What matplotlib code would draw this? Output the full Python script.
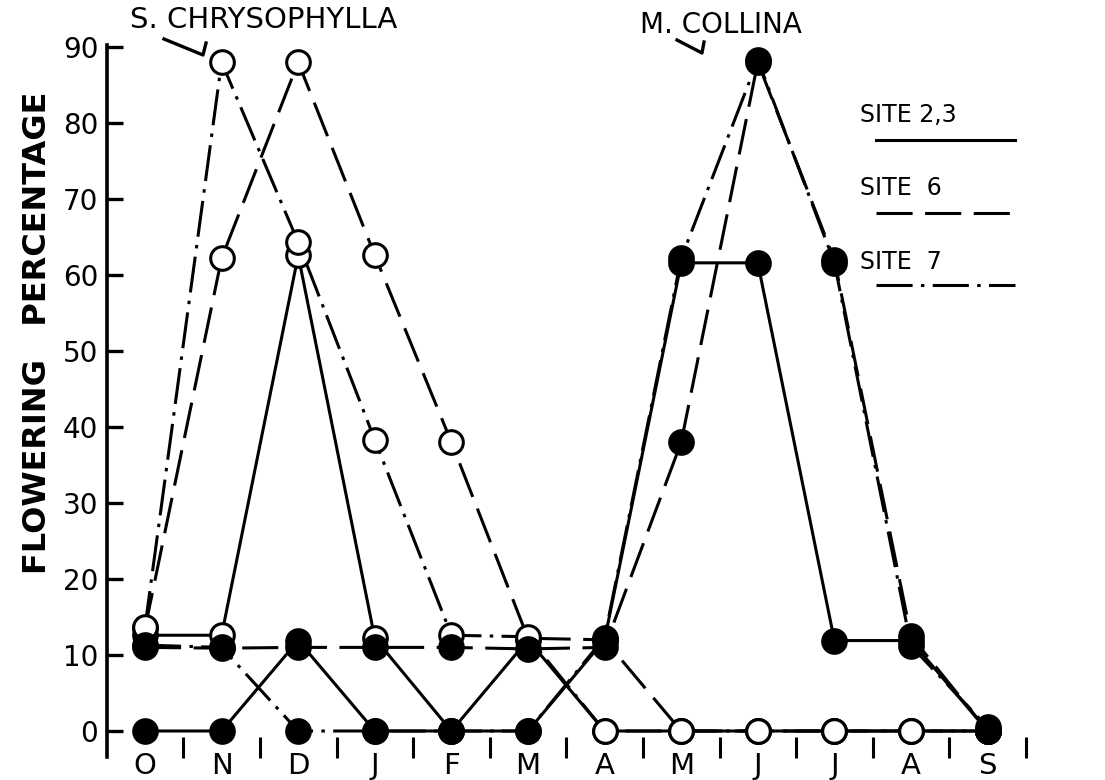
import matplotlib
matplotlib.use('Agg')
import matplotlib.pyplot as plt
from matplotlib.lines import Line2D

# month axis (Oct .. Sep)
months = ['O', 'N', 'D', 'J', 'F', 'M', 'A', 'M', 'J', 'J', 'A', 'S']
y_ticks = [0, 10, 20, 30, 40, 50, 60, 70, 80, 90]

# S. chrysophylla  (open circles)
chryso_site23 = [12.6, 12.6, 62.6, 12.2, 0, 12.0, 0, 0, 0, 0, 0, 0]
chryso_site6 = [13.5, 62.2, 88.0, 62.6, 38.0, 12.2, 12.0, 0, 0, 0, 0, 0]
chryso_site7 = [13.7, 88.0, 64.3, 38.3, 12.6, 12.4, 0, 0, 0, 0, 0, 0]

# M. collina  (filled circles)
collina_site23 = [0, 0, 11.9, 0, 0, 0, 12.0, 61.6, 61.6, 11.9, 11.9, 0]
collina_site6 = [11.0, 10.9, 11.0, 11.0, 11.0, 10.8, 11.0, 38.0, 88.0, 62.0, 12.5, 0]
collina_site7 = [11.3, 11.0, 0, 0, 0, 0, 12.3, 62.2, 88.3, 61.6, 11.2, 0.5]

legend_labels = ['SITE 2,3', 'SITE  6', 'SITE  7']

plt.rcParams['lines.scale_dashes'] = False
FONT = ['Liberation Sans Narrow', 'DejaVu Sans']

solid = '-'
dashed = (0, (26, 9))
dashdot = (0, (26, 6, 2.5, 6))

W, H = 1105, 780
fig = plt.figure(figsize=(W / 100, H / 100), dpi=100)
ax = fig.add_axes([0, 0, 1, 1])

# pixel grid of the original drawing: 76.6 px per month, 7.6 px per percent
ax.set_xlim(-145 / 76.6, (W - 145) / 76.6)
ax.set_ylim((731 - H) / 7.6, 731 / 7.6)

x = list(range(len(months)))
series = [
    (chryso_site23, solid, 'white'),
    (chryso_site6, dashed, 'white'),
    (chryso_site7, dashdot, 'white'),
    (collina_site23, solid, 'black'),
    (collina_site6, dashed, 'black'),
    (collina_site7, dashdot, 'black'),
]
for vals, ls, face in series:
    ax.plot(x, vals, color='black', lw=2.2, ls=ls, zorder=2,
            dash_capstyle='butt')
for vals, ls, face in series:
    ax.plot(x, vals, ls='none', marker='o', ms=17, mfc=face, mec='black',
            mew=2.2, zorder=3 if face == 'white' else 4)

# axes: left spine with inward ticks, no bottom line, only "I" marks between months
for s in ['top', 'right']:
    ax.spines[s].set_visible(False)
ax.spines['left'].set_position(('data', -0.5))
ax.spines['left'].set_bounds(-3.4, 90.3)
ax.spines['left'].set_linewidth(2.6)
ax.spines['bottom'].set_position(('data', -0.8))
ax.spines['bottom'].set_visible(False)

ax.set_yticks(y_ticks)
ax.set_yticklabels([str(v) for v in y_ticks])
ax.tick_params(axis='y', direction='in', length=11.5, width=2.4, pad=6,
               labelsize=20)
ax.set_xticks(x)
ax.set_xticklabels(months)
ax.set_xticks([i + 0.5 for i in x], minor=True)
ax.tick_params(axis='x', which='major', length=0, pad=11, labelsize=21)
ax.tick_params(axis='x', which='minor', direction='out', length=15, width=2.2)
for lab in ax.get_xticklabels() + ax.get_yticklabels():
    lab.set_family(FONT)

# y label
fig.text(38 / W, 1 - 333 / H, 'FLOWERING   PERCENTAGE', rotation=90,
         ha='center', va='center', fontsize=23, fontweight='bold', family=FONT)

# species labels with hooked pointers
fig.text(130 / W, 1 - 20 / H, 'S. CHRYSOPHYLLA', ha='left', va='center',
         fontsize=21, family=FONT)
fig.text(640 / W, 1 - 25 / H, 'M. COLLINA', ha='left', va='center',
         fontsize=20, family=FONT)
for pts in ([(164, 39), (203, 55), (206, 43)], [(677, 40), (702, 53), (704, 42)]):
    xs = [p[0] / W for p in pts]
    ys = [1 - p[1] / H for p in pts]
    fig.add_artist(Line2D(xs, ys, color='black', lw=2.4,
                          transform=fig.transFigure))

# legend: label text above a line sample
leg_rows = [(115, 140, solid), (188, 213, dashed), (262, 285, dashdot)]
for lab, (ty, ly, ls) in zip(legend_labels, leg_rows):
    fig.text(860 / W, 1 - ty / H, lab, ha='left', va='center', fontsize=17,
             family=FONT)
    fig.add_artist(Line2D([876 / W, 1015 / W], [1 - ly / H, 1 - ly / H],
                          color='black', lw=2.2, ls=ls,
                          transform=fig.transFigure))

fig.savefig('out.png', dpi=100)
